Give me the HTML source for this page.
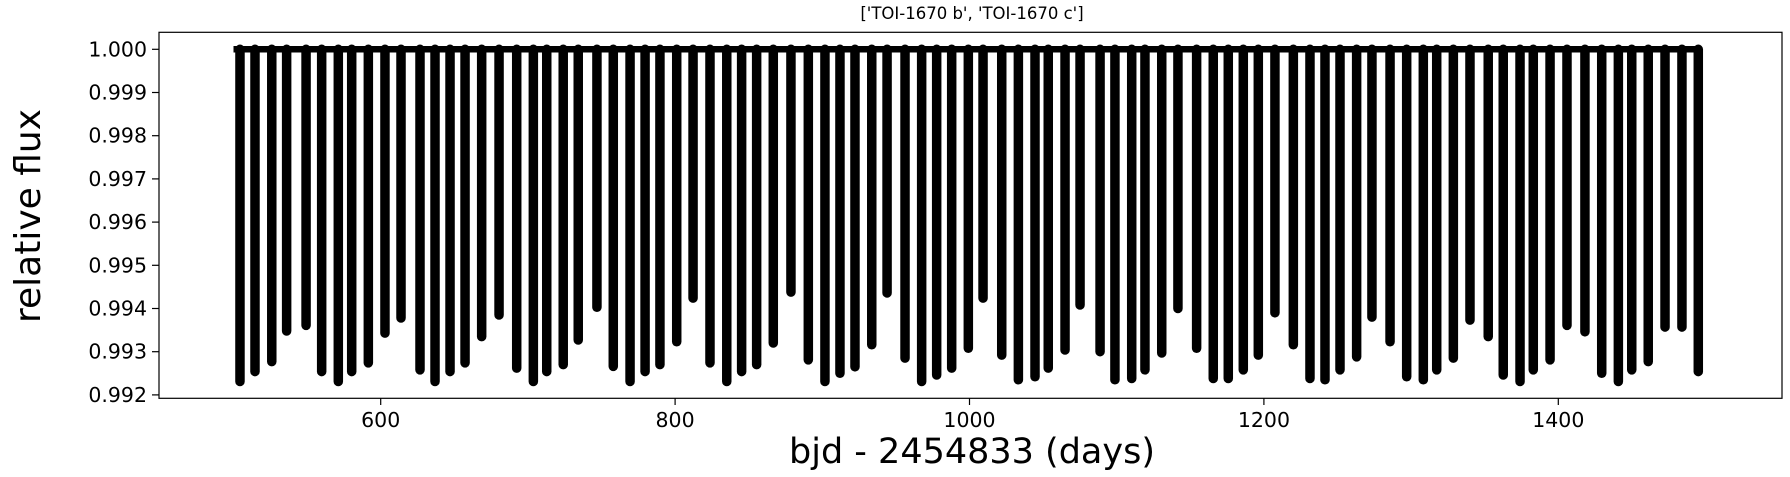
<!DOCTYPE html>
<html><head><meta charset="utf-8"><style>
html,body{margin:0;padding:0;background:#fff;}
svg{display:block;font-family:"DejaVu Sans","Liberation Sans",sans-serif;}
</style></head><body>
<svg id="chart" width="1790" height="477" viewBox="0 0 1790 477" xmlns="http://www.w3.org/2000/svg">
<rect width="1790" height="477" fill="#fff"/>
<text x="972" y="19" font-size="16.5" text-anchor="middle">['TOI-1670 b', 'TOI-1670 c']</text>
<g id="marks"></g>
<g id="yticks"></g>
<g id="xticks"></g>
<rect x="159" y="32.3" width="1623" height="366" fill="none" stroke="#000" stroke-width="1.2"/>
<text x="0" y="0" font-size="36" text-anchor="middle" transform="translate(40,216) rotate(-90)">relative flux</text>
<text x="972" y="463" font-size="35" text-anchor="middle">bjd - 2454833 (days)</text>
</svg>
<script>
const transitDays = [504.4,514.6,526.0,536.1,549.3,559.9,571.2,580.3,591.6,602.9,613.8,626.7,636.9,647.1,657.3,668.6,680.4,692.4,703.7,712.8,724.0,734.2,746.9,758.0,769.4,779.6,789.7,801.1,812.2,823.7,835.1,845.2,855.4,866.7,878.7,890.5,901.8,912.0,922.2,933.6,944.0,956.2,967.5,977.7,987.9,999.2,1009.2,1021.9,1033.2,1044.5,1053.5,1064.9,1075.1,1088.7,1098.8,1110.2,1119.2,1130.6,1141.6,1154.3,1165.6,1175.8,1186.0,1196.2,1207.5,1220.0,1231.3,1241.5,1251.7,1263.0,1273.4,1285.7,1297.0,1308.3,1317.4,1328.7,1340.0,1352.4,1362.6,1374.0,1383.0,1394.4,1405.9,1418.1,1429.5,1440.8,1449.9,1461.1,1472.5,1484.0,1495.1];
const minFlux = [0.99231,0.99254,0.99277,0.99348,0.99361,0.99254,0.99231,0.99254,0.99274,0.99343,0.99378,0.99258,0.99231,0.99254,0.99274,0.99335,0.99385,0.99262,0.99231,0.99254,0.99270,0.99327,0.99403,0.99266,0.99231,0.99254,0.99270,0.99323,0.99424,0.99274,0.99231,0.99254,0.99270,0.99320,0.99438,0.99281,0.99231,0.99250,0.99265,0.99316,0.99436,0.99285,0.99231,0.99246,0.99262,0.99308,0.99424,0.99292,0.99235,0.99242,0.99262,0.99304,0.99408,0.99300,0.99235,0.99238,0.99258,0.99297,0.99400,0.99308,0.99238,0.99238,0.99258,0.99292,0.99390,0.99316,0.99238,0.99235,0.99258,0.99288,0.99380,0.99323,0.99242,0.99235,0.99258,0.99285,0.99373,0.99335,0.99246,0.99231,0.99258,0.99281,0.99361,0.99346,0.99250,0.99231,0.99258,0.99277,0.99357,0.99357,0.99254];
const baselineRange = [500, 1497];
const baselineFlux = 1.0;
const xTickValues = [600, 800, 1000, 1200, 1400];
const yTickValues = [1.000, 0.999, 0.998, 0.997, 0.996, 0.995, 0.994, 0.993, 0.992];

const NS = "http://www.w3.org/2000/svg";
function xScale(d){ return 380.7 + (d - 600) * 1.472; }
function yScale(f){ return 49.3 + (1.0 - f) / 0.001 * 43.2; }
function mk(tag, attrs, parent){ const e=document.createElementNS(NS,tag); for(const k in attrs) e.setAttribute(k,attrs[k]); parent.appendChild(e); return e; }

const marks = document.getElementById('marks');
transitDays.forEach((d,i)=>{
  const x = xScale(d);
  const el = mk('line',{x1:x,x2:x,y1:yScale(baselineFlux),y2:yScale(minFlux[i]),stroke:'#000','stroke-width':9.5,'stroke-linecap':'round'},marks);
  
  
});
const base = mk('line',{x1:xScale(baselineRange[0]),x2:xScale(baselineRange[1]),y1:yScale(baselineFlux),y2:yScale(baselineFlux),stroke:'#000','stroke-width':6.5},marks);



const yt = document.getElementById('yticks');
yTickValues.forEach(v=>{
  const y = yScale(v);
  const t = mk('line',{x1:152,x2:159,y1:y,y2:y,stroke:'#000','stroke-width':1.2},yt);
  
  
  const l = mk('text',{x:147,y:y+7,'font-size':20.5,'text-anchor':'end'},yt);
  l.textContent = v.toFixed(3);
  
  
});
const xt = document.getElementById('xticks');
xTickValues.forEach(v=>{
  const x = xScale(v);
  const t = mk('line',{x1:x,x2:x,y1:398.3,y2:405,stroke:'#000','stroke-width':1.2},xt);
  
  
  const l = mk('text',{x:x,y:427,'font-size':20.5,'text-anchor':'middle'},xt);
  l.textContent = String(v);
  
  
});
</script>
</body></html>
